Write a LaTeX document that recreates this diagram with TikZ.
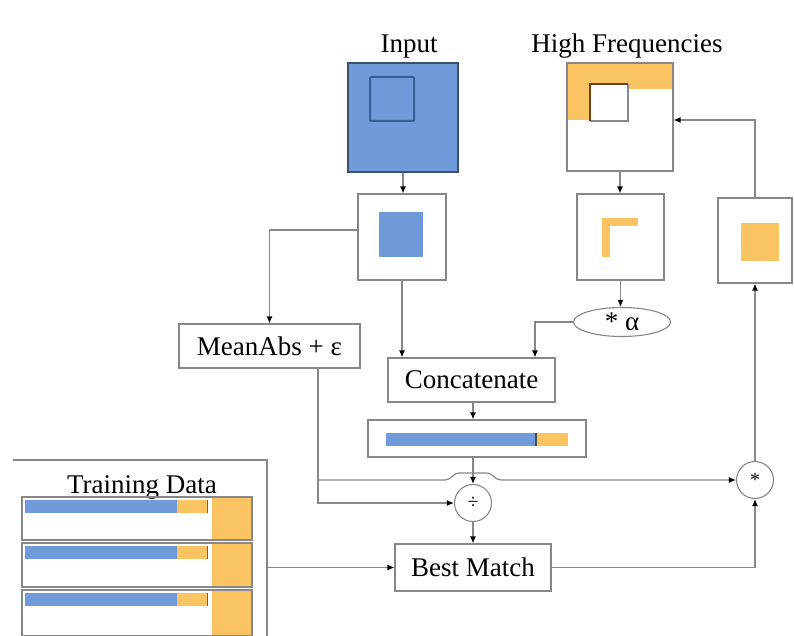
\documentclass[tikz,border=0pt]{standalone}
\usepackage{fontspec}
\setmainfont{Liberation Serif}
\usetikzlibrary{arrows.meta,shapes.geometric,calc}
\definecolor{bl}{RGB}{111,155,219}
\definecolor{og}{RGB}{251,196,98}
\definecolor{ln}{RGB}{135,135,135}
\definecolor{ibd}{RGB}{60,80,110}
\definecolor{isq}{RGB}{55,95,150}
\definecolor{brn}{RGB}{110,65,20}
\begin{document}
\begin{tikzpicture}[x=1pt,y=-1pt,
  frame/.style={draw=ln,line width=1.1pt,rectangle,inner sep=0pt},
  lbl/.style={font=\fontsize{27}{32}\selectfont},
  conn/.style={draw=ln,line width=1.2pt,-{Latex[length=7pt,width=6pt,color=black]}},
  wire/.style={draw=ln,line width=1.2pt},
  op/.style={circle,draw=ln,line width=1.1pt,minimum size=37pt,inner sep=0pt,font=\fontsize{20}{20}\selectfont}]
\useasboundingbox (0,0) rectangle (794,636);
\clip (0,0) rectangle (794,636);
\fill[white] (0,0) rectangle (794,636);

% Input
\node[lbl,anchor=base] (inpt) at (409,53) {Input};
\node[frame,fill=bl,draw=ibd,minimum width=110pt,minimum height=109pt] (inp) at (403,117.5) {};
\draw[isq,line width=2pt,rounded corners=1pt] (370,77) rectangle (414,121);

% High frequencies
\node[lbl,anchor=base] (hft) at (627,53) {High Frequencies};
\fill[og] (567,63) rectangle (673,89);
\fill[og] (567,89) rectangle (590,120);
\fill[white] (590,84) rectangle (628,121);
\draw[ln,line width=1.2pt] (628,84) -- (628,121) -- (590,121);
\draw[brn,line width=2pt] (590,121) -- (590,84) -- (628,84);
\node[frame,minimum width=106pt,minimum height=108pt] (hf) at (620,117) {};

% second row
\node[frame,fill=white,minimum width=88pt,minimum height=86pt] (b2) at (402,237) {};
\fill[bl] (379,212) rectangle (423,257);
\node[frame,fill=white,minimum width=87pt,minimum height=86pt] (b3) at (620.5,237) {};
\fill[og] (602,218) rectangle (638,226);
\fill[og] (602,226) rectangle (610,257);
\node[frame,fill=white,minimum width=74pt,minimum height=85pt] (b4) at (755,240.5) {};
\fill[og] (741,223) rectangle (779,261);

\node[ellipse,draw=ln,line width=1.1pt,minimum width=97pt,minimum height=29pt,inner sep=0pt,lbl] (ell) at (622,322) {* α};
\node[frame,fill=white,minimum width=181pt,minimum height=44pt,lbl] (mean) at (269.5,346) {MeanAbs + ε};
\node[frame,fill=white,minimum width=167pt,minimum height=44pt,lbl] (concat) at (471.5,380) {Concatenate};
\node[frame,fill=white,minimum width=218pt,minimum height=37pt] (vec) at (477,438.5) {};
\fill[bl] (386,433) rectangle (536,446);
\fill[og] (536,433) rectangle (568,446);
\draw[black!70,line width=1.2pt] (536,433) -- (536,446);

\node[op] (div) at (473,503) {÷};
\node[op] (star) at (755,480) {*};
\node[frame,fill=white,minimum width=156pt,minimum height=47pt,lbl] (best) at (473,567.5) {Best Match};

% training data
\draw[wire] (13,460) -- (267,460) -- (267,640);
\node[lbl,anchor=base] (tdt) at (142,493) {Training Data};
\foreach \t/\h in {497/43,543/44,590/46}{
  \fill[bl] (25,\t+3) rectangle (177,\t+16);
  \fill[og] (177,\t+3) rectangle (207,\t+16);
  \draw[black!60,line width=1pt] (207,\t+3) -- (207,\t+16);
  \fill[og] (212,\t+1) rectangle (251,\t+\h-1);
  \draw[ln,line width=1.1pt] (22,\t) rectangle (252,\t+\h);
}
\coordinate (tr) at (267,567.5);

% connectors
\draw[conn] (inp.south) -- (inp.south |- b2.north);
\draw[conn] (hf.south) -- (hf.south |- b3.north);
\draw[conn] ($(b2.west)+(0,-7)$) -| (mean.north);
\draw[conn] (b2.south) -- (b2.south |- concat.north);
\draw[conn] (b3.south) -- (b3.south |- ell.north);
\coordinate (cj) at (535,0);
\draw[conn] (ell.west) -| (cj |- concat.north);
\draw[conn] (div |- concat.south) -- (div |- vec.north);
\draw[conn] (div |- vec.south) -- (div.north);
\draw[conn] (div.south) -- (best.north);
\coordinate (mb) at (318,0);
\draw[conn] (mb |- mean.south) |- (div.west);
\coordinate (jn) at (mb |- star.west);
\draw[conn] (jn) -- (445,480) .. controls (452,480) and (452,473) .. (460,473) -- (486,473) .. controls (494,473) and (494,480) .. (501,480) -- (star.west);
\draw[conn] (best.east) -| (star.south);
\draw[conn] (star.north) -- (star.north |- b4.south);
\draw[conn] (b4.north) |- ($(hf.east)+(0,3)$);
\draw[conn] (tr) -- (best.west);
\end{tikzpicture}
\end{document}
